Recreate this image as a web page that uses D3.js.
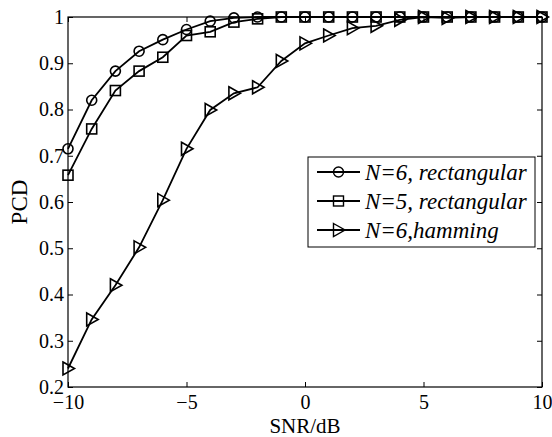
<!DOCTYPE html>
<html>
<head>
<meta charset="utf-8">
<script src="https://cdn.jsdelivr.net/npm/d3@7"></script>
<style>
  body { margin: 0; background: #fff; }
  text { font-family: "Liberation Serif", "Times New Roman", serif; }
</style>
</head>
<body>
<script>
const snr = [-10, -9, -8, -7, -6, -5, -4, -3, -2, -1, 0, 1, 2, 3, 4, 5, 6, 7, 8, 9, 10];
const n6Rect = [0.715, 0.82, 0.883, 0.926, 0.951, 0.973, 0.991, 0.998, 1, 1, 1, 1, 1, 1, 1, 1, 1, 1, 1, 1, 1];
const n5Rect = [0.658, 0.758, 0.841, 0.883, 0.913, 0.96, 0.968, 0.989, 0.996, 1, 1, 1, 1, 1, 1, 1, 1, 1, 1, 1, 1];
const n6Ham = [0.24, 0.346, 0.42, 0.502, 0.604, 0.715, 0.799, 0.835, 0.848, 0.905, 0.943, 0.96, 0.976, 0.981, 0.994, 1, 0.998, 1, 1, 1, 1];
const xTicks = [-10, -5, 0, 5, 10];
const yTicks = [0.2, 0.3, 0.4, 0.5, 0.6, 0.7, 0.8, 0.9, 1];
const seriesNames = ["N=6, rectangular", "N=5, rectangular", "N=6,hamming"];

const w = 552, h = 437;
const pLeft = 68, pRight = 542, pTop = 17, pBottom = 387;

const svg = d3.select("body").append("svg").attr("width", w).attr("height", h);

const xScale = d3.scaleLinear().domain([-10, 10]).range([pLeft, pRight]);
const yScale = d3.scaleLinear().domain([0.2, 1]).range([pBottom, pTop]);

// axes, MATLAB style: ticks inward on all four sides
const axStyle = g => {
  g.select(".domain").remove();
  g.selectAll("line").attr("stroke", "#000");
  g.selectAll("text").attr("font-size", 20).attr("fill", "#000");
};
svg.append("g").attr("transform", "translate(0," + pBottom + ")")
  .call(d3.axisBottom(xScale).tickValues(xTicks).tickSize(-5).tickPadding(8).tickFormat(d3.format("d")))
  .call(axStyle);
svg.append("g").attr("transform", "translate(0," + pTop + ")")
  .call(d3.axisTop(xScale).tickValues(xTicks).tickSize(-5).tickFormat(""))
  .call(axStyle);
svg.append("g").attr("transform", "translate(" + pLeft + ",0)")
  .call(d3.axisLeft(yScale).tickValues(yTicks).tickSize(-5).tickPadding(4).tickFormat(d => d === 1 ? "1" : d3.format(".1f")(d)))
  .call(axStyle);
svg.append("g").attr("transform", "translate(" + pRight + ",0)")
  .call(d3.axisRight(yScale).tickValues(yTicks).tickSize(-5).tickFormat(""))
  .call(axStyle);

svg.append("rect").attr("x", pLeft).attr("y", pTop).attr("width", pRight - pLeft).attr("height", pBottom - pTop)
  .attr("fill", "none").attr("stroke", "#000").attr("stroke-width", 1.2);

svg.append("text").attr("x", (pLeft + pRight) / 2).attr("y", 433).attr("text-anchor", "middle")
  .attr("font-size", 21).text("SNR/dB");
svg.append("text").attr("transform", "translate(27," + (pTop + pBottom) / 2 + ") rotate(-90)")
  .attr("text-anchor", "middle").attr("font-size", 23).text("PCD");

const line = d3.line().x((d, i) => xScale(snr[i])).y(d => yScale(d));

function marker(g, type, x, y) {
  if (type === "circle") {
    g.append("circle").attr("cx", x).attr("cy", y).attr("r", 5);
  } else if (type === "square") {
    g.append("rect").attr("x", x - 5).attr("y", y - 5).attr("width", 10).attr("height", 10);
  } else {
    g.append("path").attr("d", "M" + (x - 5) + "," + (y - 6.5) + "L" + (x + 6.5) + "," + y + "L" + (x - 5) + "," + (y + 6.5) + "Z");
  }
}

const series = [
  { vals: n6Rect, type: "circle" },
  { vals: n5Rect, type: "square" },
  { vals: n6Ham, type: "triangle" }
];

series.forEach(s => {
  svg.append("path").datum(s.vals).attr("d", line)
    .attr("fill", "none").attr("stroke", "#000").attr("stroke-width", 1.8);
  const g = svg.append("g").attr("fill", "none").attr("stroke", "#000").attr("stroke-width", 1.6);
  s.vals.forEach((v, i) => marker(g, s.type, xScale(snr[i]), yScale(v)));
});

// legend
const lg = svg.append("g");
lg.append("rect").attr("x", 308).attr("y", 157).attr("width", 227).attr("height", 90)
  .attr("fill", "#fff").attr("stroke", "#000").attr("stroke-width", 1);
series.forEach((s, i) => {
  const yy = 172 + i * 29;
  lg.append("line").attr("x1", 317).attr("x2", 360).attr("y1", yy).attr("y2", yy)
    .attr("stroke", "#000").attr("stroke-width", 1.8);
  const mg = lg.append("g").attr("fill", "none").attr("stroke", "#000").attr("stroke-width", 1.4);
  marker(mg, s.type, 338.5, yy);
  lg.append("text").attr("x", 365).attr("y", yy + 8).attr("font-size", 23)
    .attr("font-style", "italic").text(seriesNames[i]);
});
</script>
</body>
</html>
